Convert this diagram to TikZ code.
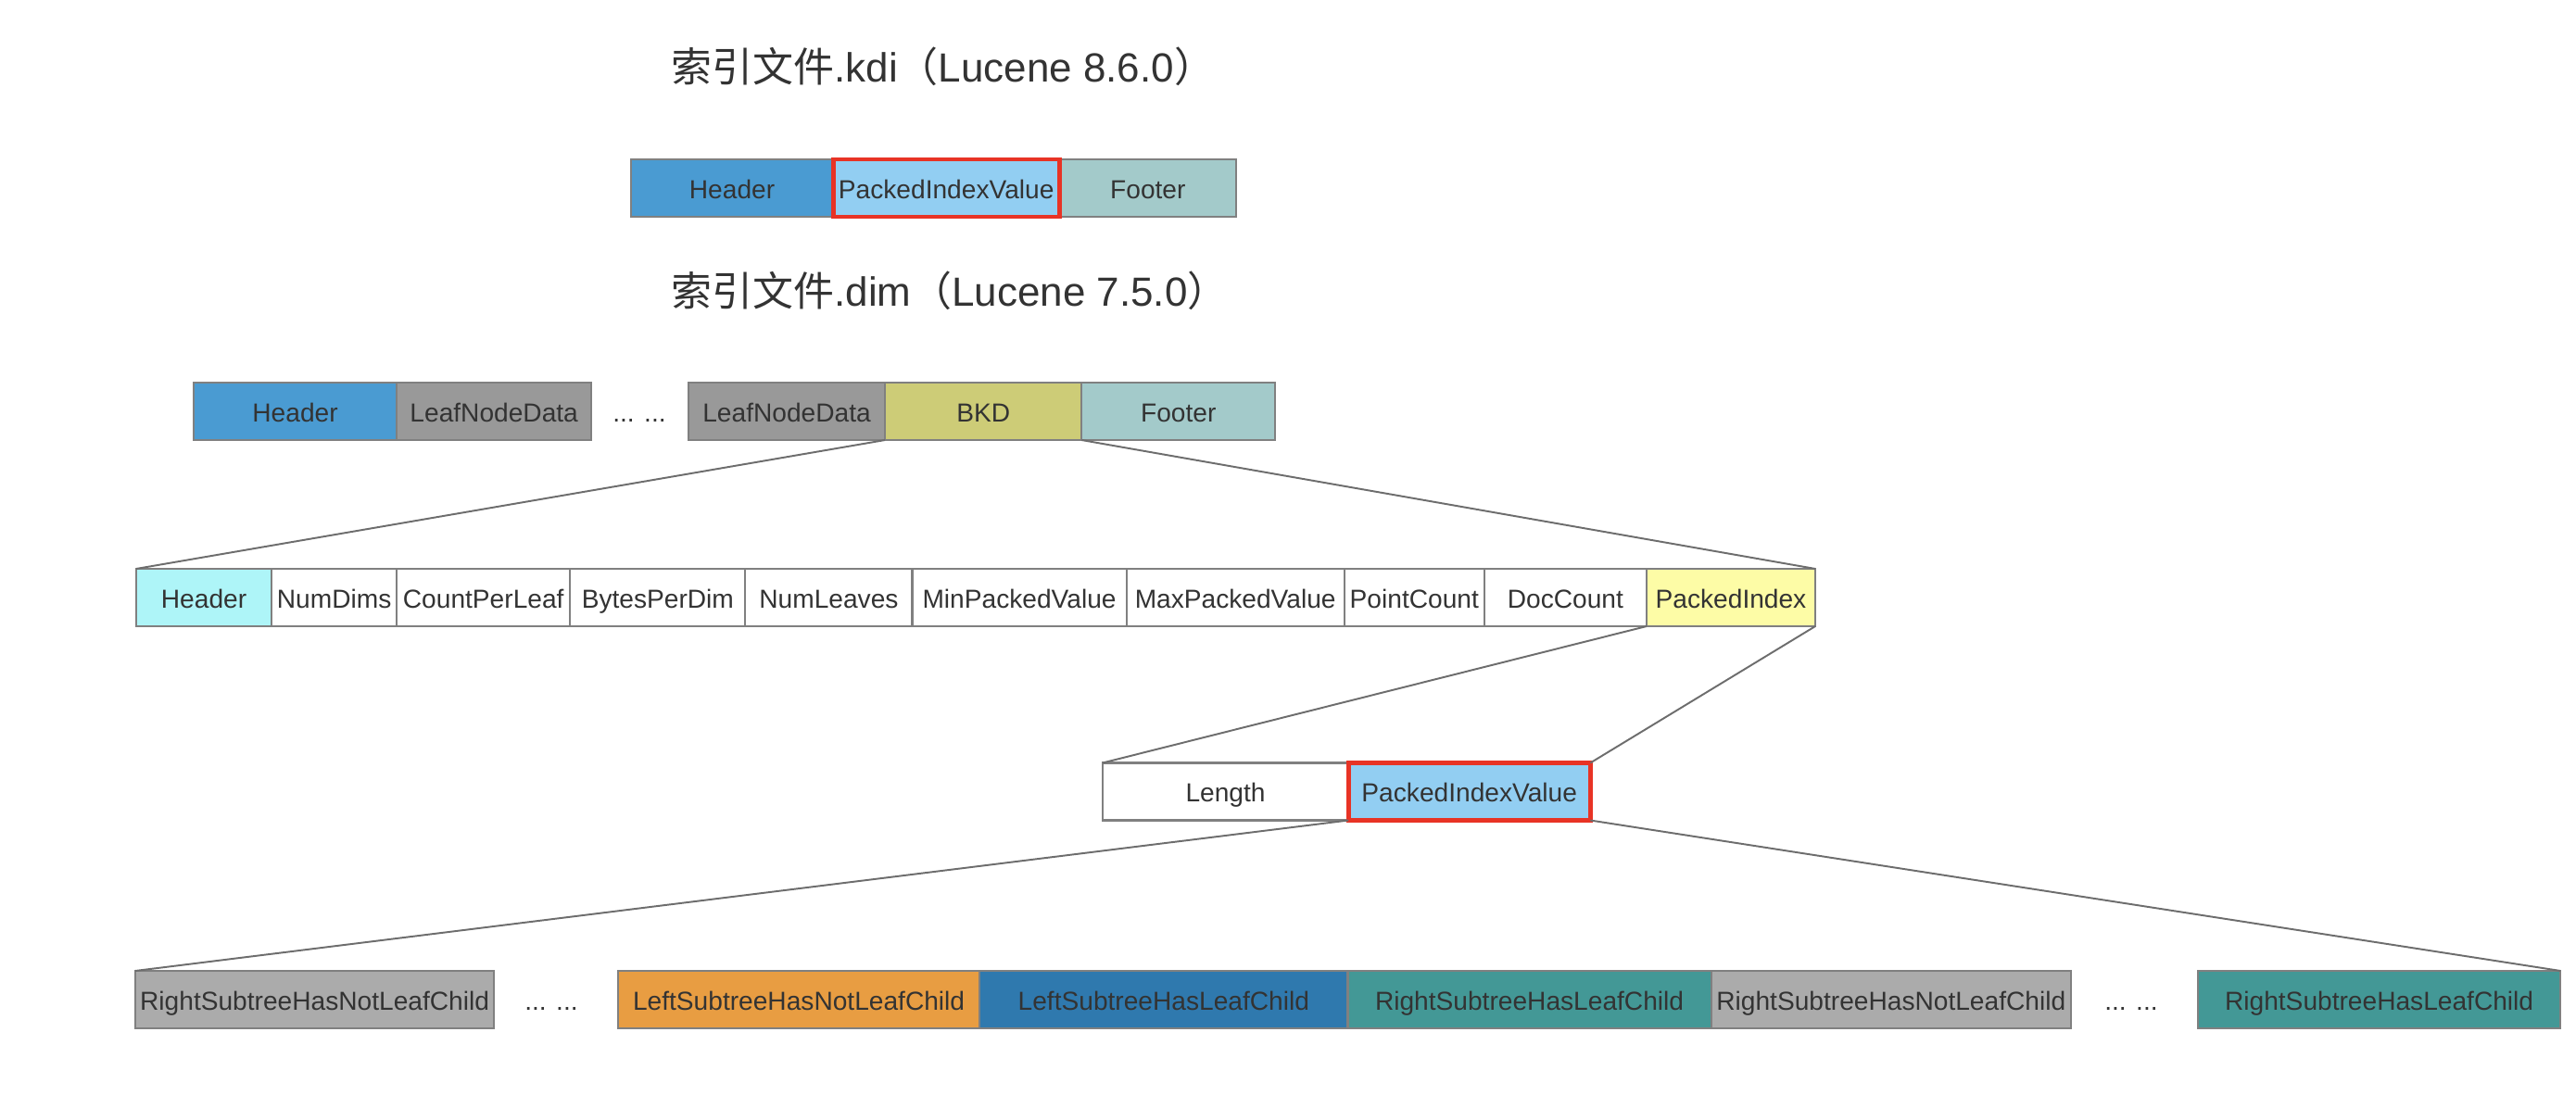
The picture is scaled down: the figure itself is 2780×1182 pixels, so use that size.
\documentclass[tikz,border=0pt]{standalone}
\usepackage{fontspec}
\setmainfont{Liberation Sans}
\newfontfamily\cjk{Noto Sans CJK SC}
\usetikzlibrary{positioning}
\definecolor{HeaderBlue}{RGB}{74,155,210}
\definecolor{ValueBlue}{RGB}{146,206,242}
\definecolor{FooterTeal}{RGB}{163,202,202}
\definecolor{LeafGray}{RGB}{153,153,153}
\definecolor{BkdOlive}{RGB}{205,204,119}
\definecolor{HeadCyan}{RGB}{174,245,248}
\definecolor{IndexYellow}{RGB}{253,252,166}
\definecolor{NotLeafGray}{RGB}{171,171,171}
\definecolor{LeftOrange}{RGB}{232,157,66}
\definecolor{LeftBlue}{RGB}{47,121,174}
\definecolor{RightTeal}{RGB}{67,152,150}
\definecolor{MarkRed}{RGB}{232,51,37}
\definecolor{EdgeGray}{RGB}{128,128,128}
\definecolor{TextDark}{RGB}{51,51,51}

\begin{document}
\begin{tikzpicture}[x=0.01cm,y=-0.01cm,
    cell/.style={draw=EdgeGray,line width=0.6pt,minimum height=0.62cm,
                 inner sep=0pt,outer sep=0pt,text=TextDark,
                 text height=1.55ex,text depth=.35ex,
                 font=\fontsize{8}{9.6}\selectfont},
    hl/.style={draw=MarkRed,line width=1.4pt},
    link/.style={draw=EdgeGray!85!black,line width=0.55pt},
    ttl/.style={anchor=west,inner sep=0pt,text=TextDark,
                font=\fontsize{12.5}{15}\selectfont},
    gap/.style={inner sep=0pt,text=TextDark,text height=1.55ex,text depth=.35ex,
                font=\fontsize{8}{9.6}\selectfont}
  ]
  \useasboundingbox (0,0) rectangle (2780,1182);

  % .kdi
  \node[ttl] (t1) at (724,72) {{\cjk 索引文件}.kdi{\cjk （}Lucene 8.6.0{\cjk ）}};
  \node[cell,fill=HeaderBlue,minimum width=2.18cm,anchor=west] (kh) at (681,203) {Header};
  \node[cell,fill=ValueBlue,minimum width=2.44cm,right=0pt of kh] (kp) {PackedIndexValue};
  \node[cell,fill=FooterTeal,minimum width=1.91cm,right=0pt of kp] (kf) {Footer};
  \draw[hl] (kp.south west) rectangle (kp.north east);

  % .dim
  \node[ttl] (t2) at (724,314) {{\cjk 索引文件}.dim{\cjk （}Lucene 7.5.0{\cjk ）}};
  \node[cell,fill=HeaderBlue,minimum width=2.19cm,anchor=west] (dh) at (209,444) {Header};
  \node[cell,fill=LeafGray,minimum width=2.10cm,right=0pt of dh] (dl1) {LeafNodeData};
  \node[gap] (dd) at (690,444) {... ...};
  \node[cell,fill=LeafGray,minimum width=2.12cm,anchor=west] (dl2) at (743,444) {LeafNodeData};
  \node[cell,fill=BkdOlive,minimum width=2.12cm,right=0pt of dl2] (bkd) {BKD};
  \node[cell,fill=FooterTeal,minimum width=2.09cm,right=0pt of bkd] (df) {Footer};

  % BKD
  \node[cell,fill=HeadCyan,minimum width=1.46cm,anchor=west] (bh) at (147,645) {Header};
  \node[cell,fill=white,minimum width=1.35cm,right=0pt of bh] (nd) {NumDims};
  \node[cell,fill=white,minimum width=1.87cm,right=0pt of nd] (cpl) {CountPerLeaf};
  \node[cell,fill=white,minimum width=1.89cm,right=0pt of cpl] (bpd) {BytesPerDim};
  \node[cell,fill=white,minimum width=1.80cm,right=0pt of bpd] (nl) {NumLeaves};
  \node[cell,fill=white,minimum width=2.31cm,right=0pt of nl] (minv) {MinPackedValue};
  \node[cell,fill=white,minimum width=2.35cm,right=0pt of minv] (maxv) {MaxPackedValue};
  \node[cell,fill=white,minimum width=1.51cm,right=0pt of maxv] (pc) {PointCount};
  \node[cell,fill=white,minimum width=1.75cm,right=0pt of pc] (dc) {DocCount};
  \node[cell,fill=IndexYellow,minimum width=1.82cm,right=0pt of dc] (pidx) {PackedIndex};

  % PackedIndex
  \node[cell,fill=white,minimum width=2.65cm,anchor=west] (len) at (1190,854.5) {Length};
  \node[cell,fill=ValueBlue,minimum width=2.61cm,right=0pt of len] (piv) {PackedIndexValue};
  \draw[hl] (piv.south west) rectangle (piv.north east);

  % PackedIndexValue
  \node[cell,fill=NotLeafGray,minimum width=3.87cm,anchor=west] (r1) at (146,1079) {RightSubtreeHasNotLeafChild};
  \node[gap] (rd1) at (595,1079) {... ...};
  \node[cell,fill=LeftOrange,minimum width=3.90cm,anchor=west] (r2) at (667,1079) {LeftSubtreeHasNotLeafChild};
  \node[cell,fill=LeftBlue,minimum width=3.97cm,right=0pt of r2] (r3) {LeftSubtreeHasLeafChild};
  \node[cell,fill=RightTeal,minimum width=3.92cm,right=0pt of r3] (r4) {RightSubtreeHasLeafChild};
  \node[cell,fill=NotLeafGray,minimum width=3.88cm,right=0pt of r4] (r5) {RightSubtreeHasNotLeafChild};
  \node[gap] (rd2) at (2300,1079) {... ...};
  \node[cell,fill=RightTeal,minimum width=3.91cm,anchor=west] (r6) at (2372,1079) {RightSubtreeHasLeafChild};

  \draw[link] (bkd.south west) -- (bh.north west);
  \draw[link] (bkd.south east) -- (pidx.north east);
  \draw[link] (pidx.south west) -- (len.north west);
  \draw[link] (pidx.south east) -- (piv.north east);
  \draw[link] (piv.south west) -- (r1.north west);
  \draw[link] (piv.south east) -- (r6.north east);
\end{tikzpicture}
\end{document}
